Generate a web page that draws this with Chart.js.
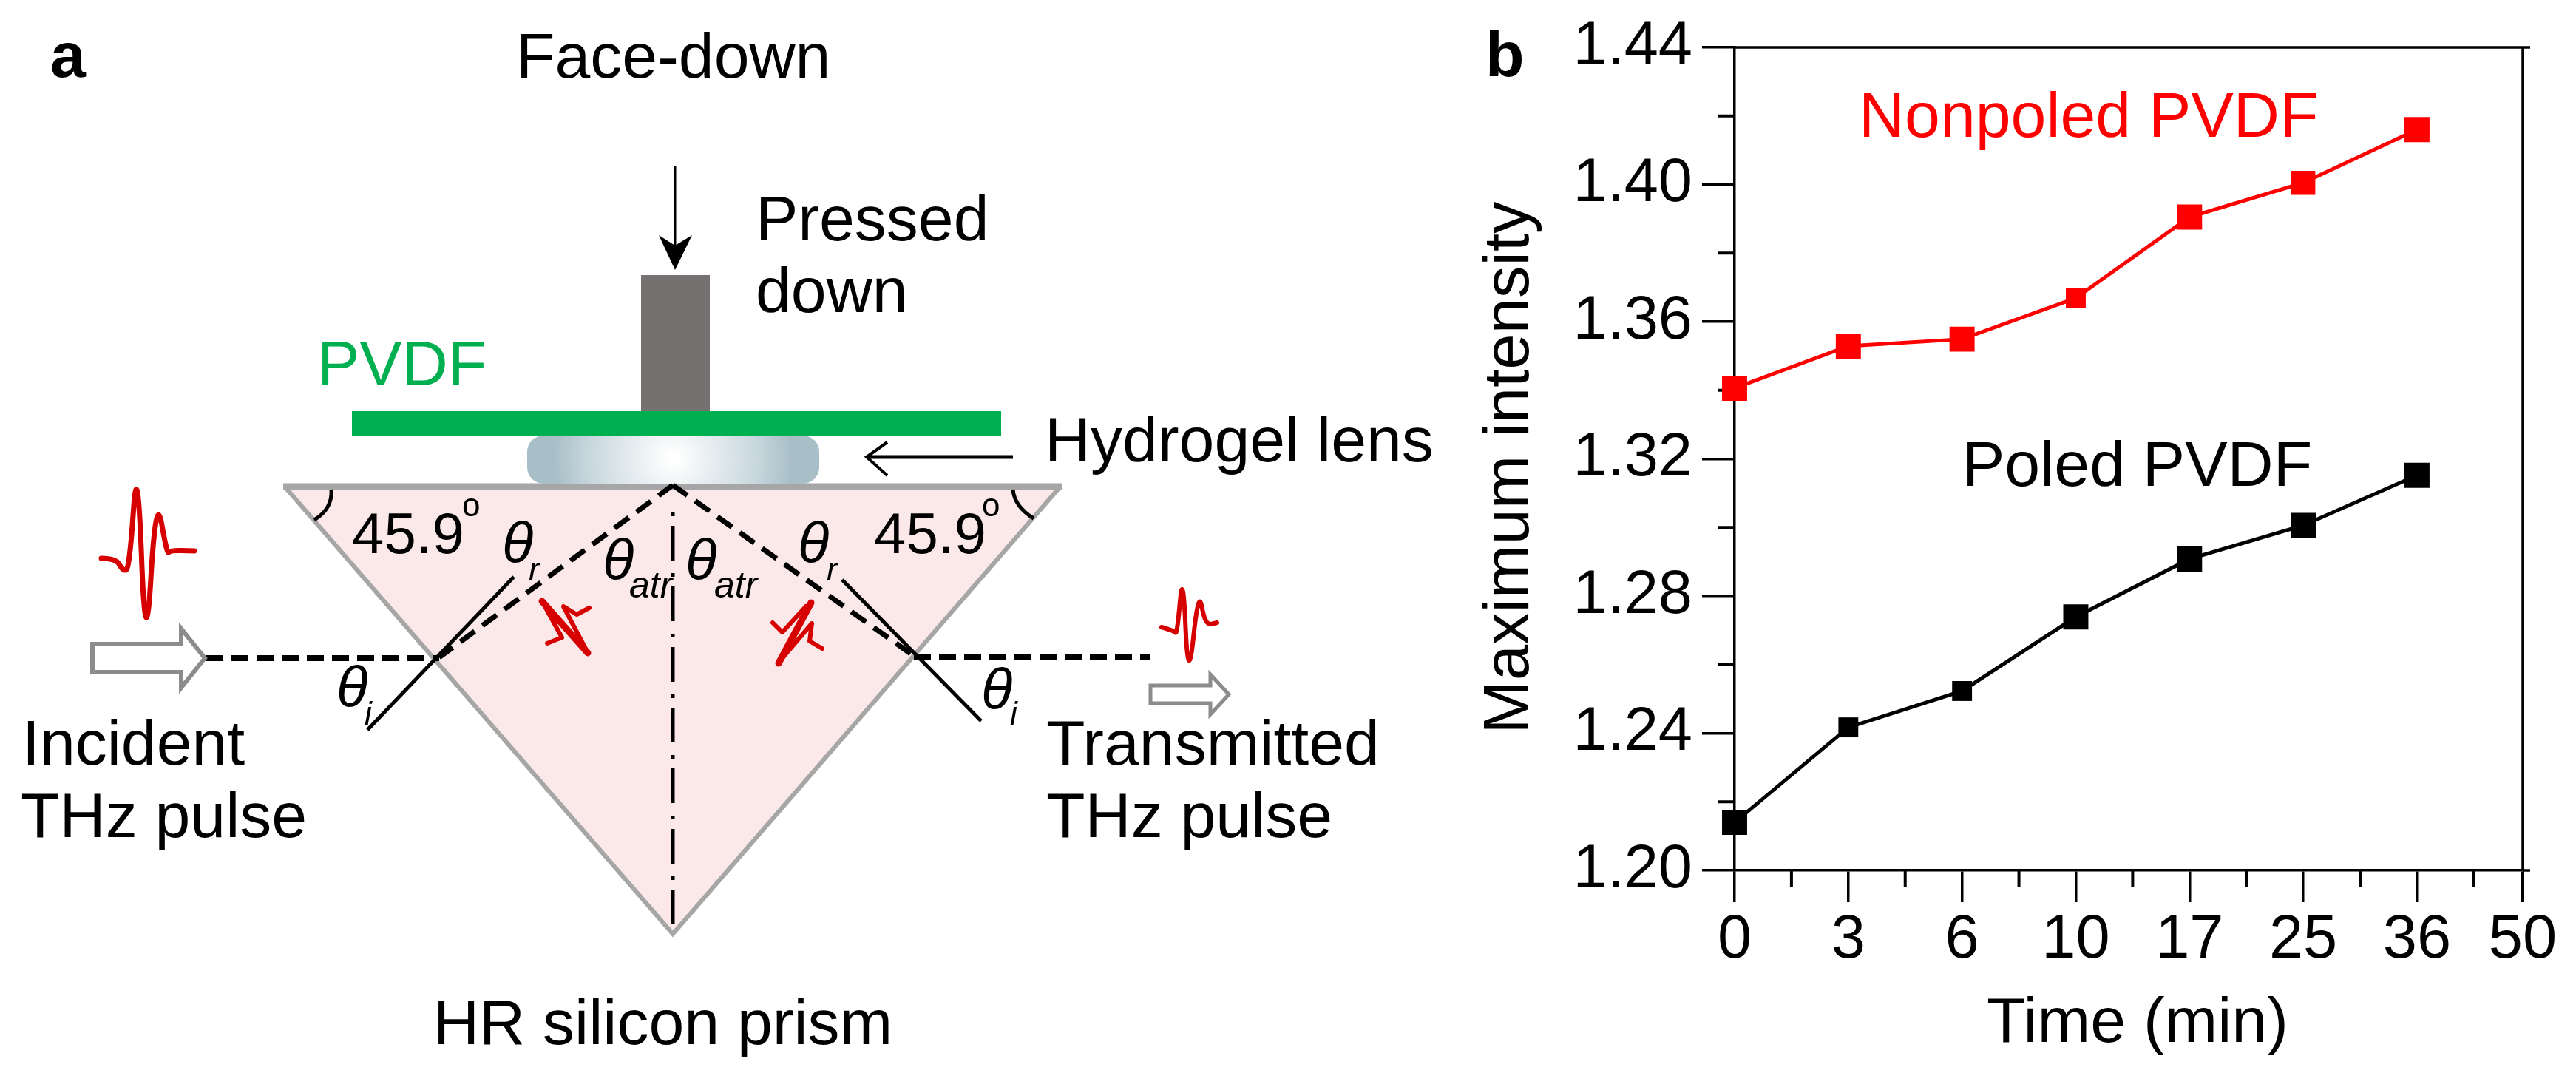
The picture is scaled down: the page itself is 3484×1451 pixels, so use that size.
<!DOCTYPE html>
<html>
<head>
<meta charset="utf-8">
<style>
	html, body { margin: 0; padding: 0; background: #fff; }
	canvas { display: block; }
</style>
<script src="https://cdn.jsdelivr.net/npm/chart.js@4"></script>
</head>
<body>
<canvas id="myChart" width="3484" height="1451"></canvas>
<script>
// panel b data
const timeLabels = ['0', '3', '6', '10', '17', '25', '36', '50'];
const timeSlots = [0, 1, 2, 3, 4, 5, 6];
const nonpoled = [1.3406, 1.3529, 1.3549, 1.3669, 1.3905, 1.4005, 1.4160];
const poled = [1.2140, 1.2417, 1.2523, 1.2739, 1.2908, 1.3006, 1.3152];
const intensityTicks = [1.20, 1.24, 1.28, 1.32, 1.36, 1.40, 1.44];

const FONT = '"Liberation Sans", Arial, sans-serif';
const RED = '#d60000';
const GREY = '#a6a6a6';

function font(size, style) {
	return (style ? style + ' ' : '') + size + 'px ' + FONT;
}

function poly(ctx, pts, color, width, dash) {
	ctx.beginPath();
	pts.forEach((p, i) => i ? ctx.lineTo(p[0], p[1]) : ctx.moveTo(p[0], p[1]));
	ctx.strokeStyle = color;
	ctx.lineWidth = width;
	ctx.setLineDash(dash || []);
	ctx.stroke();
	ctx.setLineDash([]);
}

// smooth red pulse through the given points
function pulse(ctx, pts, width) {
	ctx.beginPath();
	ctx.moveTo(pts[0][0], pts[0][1]);
	for (let i = 1; i < pts.length - 1; i++) {
		const mx = (pts[i][0] + pts[i + 1][0]) / 2;
		const my = (pts[i][1] + pts[i + 1][1]) / 2;
		ctx.quadraticCurveTo(pts[i][0], pts[i][1], mx, my);
	}
	const last = pts[pts.length - 1];
	ctx.lineTo(last[0], last[1]);
	ctx.strokeStyle = RED;
	ctx.lineWidth = width;
	ctx.lineCap = 'round';
	ctx.lineJoin = 'round';
	ctx.stroke();
	ctx.lineCap = 'butt';
	ctx.lineJoin = 'miter';
}

// squashed pulse inside the prism, straight segments
function squashed(ctx, pts, width) {
	ctx.lineCap = 'round';
	ctx.lineJoin = 'round';
	poly(ctx, pts, RED, width);
	ctx.lineCap = 'butt';
	ctx.lineJoin = 'miter';
}

function hollowArrow(ctx, x0, xb, x1, y, hb, hh, width) {
	ctx.beginPath();
	ctx.moveTo(x0, y - hb);
	ctx.lineTo(xb, y - hb);
	ctx.lineTo(xb, y - hh);
	ctx.lineTo(x1, y);
	ctx.lineTo(xb, y + hh);
	ctx.lineTo(xb, y + hb);
	ctx.lineTo(x0, y + hb);
	ctx.closePath();
	ctx.fillStyle = '#fff';
	ctx.fill();
	ctx.strokeStyle = '#8c8c8c';
	ctx.lineWidth = width;
	ctx.stroke();
}

const diagramTexts = [
	['a', 68, 104, font(86, 'bold'), '#000'],
	['Face-down', 698, 105, font(86), '#000'],
	['Pressed', 1022, 325, font(86), '#000'],
	['down', 1022, 422, font(86), '#000'],
	['PVDF', 429, 521, font(86), '#00b050'],
	['Hydrogel lens', 1413, 624, font(86), '#000'],
	['45.9', 476, 748, font(78), '#000'],
	['o', 625, 698, font(44), '#000'],
	['45.9', 1182, 748, font(78), '#000'],
	['o', 1328, 698, font(44), '#000'],
	['θ', 679, 761, font(78, 'italic'), '#000'],
	['r', 715, 785, font(44, 'italic'), '#000'],
	['θ', 815, 784, font(78, 'italic'), '#000'],
	['atr', 851, 808, font(50, 'italic'), '#000'],
	['θ', 927, 784, font(78, 'italic'), '#000'],
	['atr', 966, 808, font(50, 'italic'), '#000'],
	['θ', 1079, 761, font(78, 'italic'), '#000'],
	['r', 1118, 785, font(44, 'italic'), '#000'],
	['θ', 455, 956, font(78, 'italic'), '#000'],
	['i', 493, 980, font(44, 'italic'), '#000'],
	['θ', 1327, 959, font(78, 'italic'), '#000'],
	['i', 1366, 980, font(44, 'italic'), '#000'],
	['Incident', 30, 1034, font(86), '#000'],
	['THz pulse', 28, 1132, font(86), '#000'],
	['Transmitted', 1415, 1034, font(86), '#000'],
	['THz pulse', 1415, 1132, font(86), '#000'],
	['HR silicon prism', 586, 1412, font(86), '#000']
];

// panel a: the prism sketch, not data
const diagramPlugin = {
	id: 'diagram',
	beforeDraw(chart) {
		const ctx = chart.ctx;
		ctx.save();

		// prism
		ctx.beginPath();
		ctx.moveTo(385, 658);
		ctx.lineTo(1434, 658);
		ctx.lineTo(910, 1263);
		ctx.closePath();
		ctx.fillStyle = '#fbe9e9';
		ctx.fill();
		poly(ctx, [[385, 658], [910, 1263], [1434, 658]], GREY, 6);
		poly(ctx, [[383, 658], [1436, 658]], GREY, 9);

		// press rod, film, lens
		ctx.fillStyle = '#767171';
		ctx.fillRect(867, 372, 93, 186);
		ctx.fillStyle = '#00b050';
		ctx.fillRect(476, 556, 878, 33);
		const lens = ctx.createRadialGradient(910, 620, 5, 910, 620, 200);
		lens.addColorStop(0, '#ffffff');
		lens.addColorStop(0.55, '#c9d8de');
		lens.addColorStop(0.8, '#a9bfc8');
		lens.addColorStop(1, '#a9bfc8');
		ctx.fillStyle = lens;
		ctx.beginPath();
		ctx.roundRect(713, 589, 395, 65, 22);
		ctx.fill();

		// arrows
		poly(ctx, [[913, 225], [913, 345]], '#000', 3);
		ctx.fillStyle = '#000';
		ctx.beginPath();
		ctx.moveTo(913, 365);
		ctx.lineTo(891, 318);
		ctx.lineTo(913, 332);
		ctx.lineTo(936, 318);
		ctx.closePath();
		ctx.fill();
		poly(ctx, [[1370, 618], [1175, 618]], '#000', 5);
		poly(ctx, [[1200, 598], [1172, 618], [1200, 643]], '#000', 4);

		// beams and normals
		poly(ctx, [[910, 1250], [910, 682]], '#000', 5, [47, 13, 5, 17]);
		poly(ctx, [[910, 656], [594, 889]], '#000', 7, [24, 13]);
		poly(ctx, [[910, 656], [1236, 887]], '#000', 7, [24, 13]);
		poly(ctx, [[279, 890], [594, 890]], '#000', 8, [23, 11]);
		poly(ctx, [[1236, 888], [1555, 888]], '#000', 8, [23, 11]);
		poly(ctx, [[695, 780], [497, 987]], '#000', 5);
		poly(ctx, [[1139, 784], [1327, 975]], '#000', 5);

		// angle arcs at the prism corners
		ctx.lineWidth = 5;
		ctx.strokeStyle = '#000';
		ctx.beginPath();
		ctx.moveTo(448, 662);
		ctx.quadraticCurveTo(450, 688, 425, 703);
		ctx.moveTo(1370, 662);
		ctx.quadraticCurveTo(1372, 685, 1398, 701);
		ctx.stroke();

		hollowArrow(ctx, 125, 245, 277, 890, 19, 40, 6);
		hollowArrow(ctx, 1556, 1637, 1662, 939, 12, 27, 5);

		// THz pulses
		pulse(ctx, [[137, 755], [157, 755], [166, 772], [175, 770], [186, 610], [197, 900], [211, 665], [226, 750], [230, 744], [263, 745]], 7);
		pulse(ctx, [[1571, 848], [1588, 853], [1592, 858], [1600, 768], [1607, 930], [1621, 795], [1630, 846], [1646, 842]], 6);
		squashed(ctx, [[733, 813], [795, 883]], 9);
		squashed(ctx, [[797, 822], [780, 831], [762, 820], [795, 883]], 6);
		squashed(ctx, [[740, 870], [760, 862], [738, 822]], 6);
		squashed(ctx, [[1097, 815], [1053, 897]], 9);
		squashed(ctx, [[1045, 842], [1058, 855], [1090, 820]], 6);
		squashed(ctx, [[1112, 877], [1095, 867], [1098, 843], [1058, 890]], 6);

		// labels
		ctx.textAlign = 'left';
		ctx.textBaseline = 'alphabetic';
		diagramTexts.forEach(t => {
			ctx.font = t[3];
			ctx.fillStyle = t[4];
			ctx.fillText(t[0], t[1], t[2]);
		});
		ctx.restore();
	}
};

// panel b: closing frame, minor ticks, panel letter and series labels
const framePlugin = {
	id: 'frame',
	beforeDatasetsDraw(chart) {
		const ctx = chart.ctx;
		const area = chart.chartArea;
		const xs = chart.scales.x;
		const ys = chart.scales.y;
		ctx.save();
		poly(ctx, [[area.left, area.top], [area.right + 10, area.top]], '#000', 3.5);
		poly(ctx, [[area.right, area.bottom], [area.right + 10, area.bottom]], '#000', 3.5);
		poly(ctx, [[area.right, area.top], [area.right, area.bottom]], '#000', 3.5);
		for (let i = 0; i < 7; i++) {
			const px = xs.getPixelForValue(i + 0.5);
			poly(ctx, [[px, area.bottom], [px, area.bottom + 23]], '#000', 4);
		}
		for (let i = 0; i < intensityTicks.length - 1; i++) {
			const py = ys.getPixelForValue((intensityTicks[i] + intensityTicks[i + 1]) / 2);
			poly(ctx, [[area.left - 23, py], [area.left, py]], '#000', 4);
		}
		ctx.textAlign = 'left';
		ctx.textBaseline = 'alphabetic';
		ctx.font = font(86, 'bold');
		ctx.fillStyle = '#000';
		ctx.fillText('b', 2009, 103);
		ctx.font = font(86);
		ctx.fillStyle = '#ff0000';
		ctx.fillText('Nonpoled PVDF', 2514, 185);
		ctx.fillStyle = '#000';
		ctx.fillText('Poled PVDF', 2654, 657);
		ctx.restore();
	}
};

new Chart(document.getElementById('myChart'), {
	type: 'line',
	data: {
		datasets: [{
			label: 'Nonpoled PVDF',
			data: timeSlots.map((s, i) => ({ x: s, y: nonpoled[i] })),
			borderColor: '#ff0000',
			backgroundColor: '#ff0000',
			borderWidth: 5,
			pointStyle: 'rect',
			pointRadius: [24, 24, 24, 19, 24, 23, 24],
			pointBorderWidth: 0,
			clip: false
		}, {
			label: 'Poled PVDF',
			data: timeSlots.map((s, i) => ({ x: s, y: poled[i] })),
			borderColor: '#000',
			backgroundColor: '#000',
			borderWidth: 5,
			pointStyle: 'rect',
			pointRadius: [24, 19, 19, 24, 24, 24, 24],
			pointBorderWidth: 0,
			clip: false
		}]
	},
	options: {
		responsive: false,
		animation: false,
		devicePixelRatio: 1,
		layout: { padding: { left: 1991, right: 72, top: 64, bottom: 0 } },
		plugins: { legend: { display: false }, tooltip: { enabled: false } },
		scales: {
			x: {
				type: 'linear',
				min: 0,
				max: 6.93,
				afterBuildTicks(scale) {
					scale.ticks = timeLabels.map((l, i) => ({ value: i < 7 ? i : 6.93 }));
				},
				afterFit(scale) { scale.height = 274; },
				grid: { drawOnChartArea: false, tickLength: 43, color: '#000', lineWidth: 3.5 },
				border: { color: '#000', width: 3.5 },
				ticks: {
					autoSkip: false,
					maxRotation: 0,
					padding: 2,
					color: '#000',
					font: { family: FONT, size: 83 },
					callback: (v, i) => timeLabels[i]
				},
				title: {
					display: true,
					text: ' Time (min)',
					color: '#000',
					font: { family: FONT, size: 86 },
					padding: { top: 0, bottom: 14 }
				}
			},
			y: {
				min: 1.2,
				max: 1.44,
				afterBuildTicks(scale) {
					scale.ticks = intensityTicks.map(v => ({ value: v }));
				},
				afterFit(scale) { scale.width = 355; },
				grid: { drawOnChartArea: false, tickLength: 44, color: '#000', lineWidth: 3.5 },
				border: { color: '#000', width: 3.5 },
				ticks: {
					padding: 13,
					color: '#000',
					font: { family: FONT, size: 83 },
					callback: v => v.toFixed(2)
				},
				title: {
					display: true,
					text: 'Maximum intensity ',
					color: '#000',
					font: { family: FONT, size: 87 },
					padding: { top: 0, bottom: 0 }
				}
			}
		}
	},
	plugins: [diagramPlugin, framePlugin]
});
</script>
</body>
</html>
